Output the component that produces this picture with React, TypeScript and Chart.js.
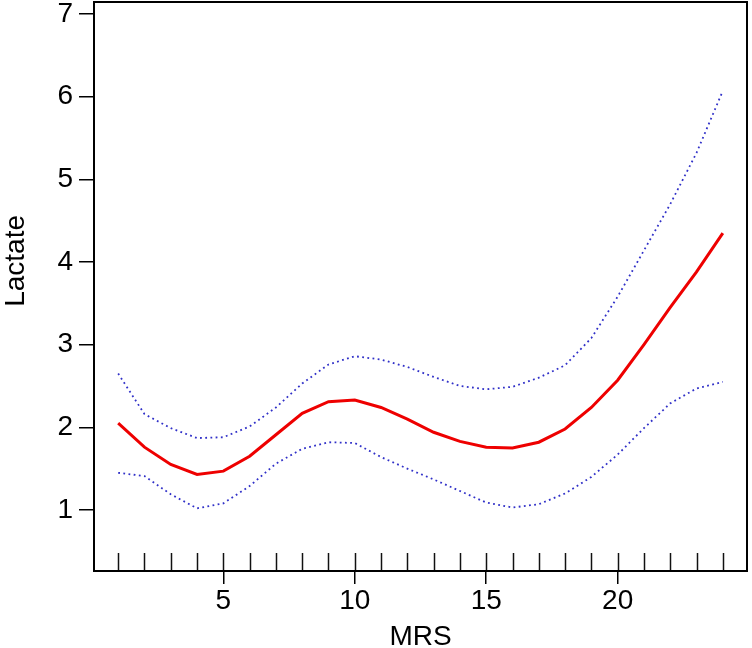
import { useEffect, useRef } from "react";
import { Chart, registerables } from "chart.js";

Chart.register(...registerables);

const mrs = [1, 2, 3, 4, 5, 6, 7, 8, 9, 10, 11, 12, 13, 14, 15, 16, 17, 18, 19, 20, 21, 22, 23, 24];
const lactateFit = [2.05, 1.76, 1.55, 1.43, 1.47, 1.65, 1.91, 2.17, 2.31, 2.33, 2.24, 2.1, 1.94, 1.83, 1.76, 1.75, 1.82, 1.98, 2.24, 2.57, 3.0, 3.45, 3.88, 4.35];
const upperCI = [2.65, 2.16, 1.99, 1.87, 1.88, 2.01, 2.24, 2.53, 2.76, 2.86, 2.82, 2.73, 2.61, 2.5, 2.46, 2.49, 2.6, 2.75, 3.08, 3.58, 4.14, 4.7, 5.32, 6.07];
const lowerCI = [1.45, 1.41, 1.19, 1.02, 1.08, 1.29, 1.56, 1.74, 1.82, 1.81, 1.64, 1.5, 1.37, 1.23, 1.09, 1.03, 1.07, 1.2, 1.4, 1.67, 1.99, 2.29, 2.47, 2.55];
const rugMRS = [1, 2, 3, 4, 5, 6, 7, 8, 9, 10, 11, 12, 13, 14, 15, 16, 17, 18, 19, 20, 21, 22, 23, 24];
const xTickValues = [5, 10, 15, 20];
const yTickValues = [1, 2, 3, 4, 5, 6, 7];
const yTitle = "Lactate";

const FONT = '"Liberation Sans", Arial, Helvetica, sans-serif';

const frameRugPlugin = {
  id: "frameRug",
  afterDatasetsDraw(chart: any) {
    const { ctx, chartArea: a, scales } = chart;
    const x = scales.x;
    ctx.save();
    ctx.strokeStyle = "#111";
    ctx.lineWidth = 1.5;
    for (const v of rugMRS) {
      const px = Math.round(x.getPixelForValue(v)) + 0.5;
      ctx.beginPath();
      ctx.moveTo(px, a.bottom);
      ctx.lineTo(px, a.bottom - 18);
      ctx.stroke();
    }
    ctx.strokeStyle = "#000";
    ctx.lineWidth = 2;
    ctx.strokeRect(a.left, a.top, a.right - a.left, a.bottom - a.top);
    ctx.restore();
  },
  afterDraw(chart: any) {
    const { ctx, chartArea: a } = chart;
    ctx.save();
    ctx.fillStyle = "#000";
    ctx.font = `28px ${FONT}`;
    ctx.textAlign = "center";
    ctx.textBaseline = "middle";
    ctx.translate(16.5, a.top + (a.bottom - a.top) * 0.455);
    ctx.rotate(-Math.PI / 2);
    ctx.fillText(yTitle, 0, 0);
    ctx.restore();
  },
};

export default function App() {
  const ref = useRef<HTMLCanvasElement | null>(null);

  useEffect(() => {
    document.body.style.margin = "0";
    if (!ref.current) return;
    const toPts = (ys: number[]) => mrs.map((m, i) => ({ x: m, y: ys[i] }));
    const chart = new Chart(ref.current, {
      type: "line",
      data: {
        datasets: [
          {
            data: toPts(upperCI),
            borderColor: "#3030c8",
            borderWidth: 1.8,
            borderDash: [1.8, 3.4],
            pointRadius: 0,
            tension: 0,
            fill: false,
          },
          {
            data: toPts(lowerCI),
            borderColor: "#3030c8",
            borderWidth: 1.8,
            borderDash: [1.8, 3.4],
            pointRadius: 0,
            tension: 0,
            fill: false,
          },
          {
            data: toPts(lactateFit),
            borderColor: "#ee0000",
            borderWidth: 3,
            pointRadius: 0,
            tension: 0,
            fill: false,
          },
        ],
      },
      options: {
        animation: false,
        responsive: true,
        maintainAspectRatio: false,
        layout: { padding: { top: 2, right: 5, left: 0, bottom: 0 } },
        plugins: { legend: { display: false }, tooltip: { enabled: false } },
        scales: {
          x: {
            type: "linear",
            position: "bottom",
            min: 0.08,
            max: 24.92,
            afterBuildTicks: (s: any) => {
              s.ticks = xTickValues.map((value) => ({ value }));
            },
            afterFit: (s: any) => {
              s.height = 77;
              s.paddingLeft = 0;
              s.paddingRight = 0;
            },
            grid: {
              display: true,
              drawOnChartArea: false,
              drawTicks: true,
              tickLength: 13,
              color: "#000",
              lineWidth: 1.5,
            },
            border: { display: false },
            ticks: {
              color: "#000",
              font: { family: FONT, size: 28 },
              padding: 0,
              maxRotation: 0,
              autoSkip: false,
            },
            title: {
              display: true,
              text: "MRS",
              color: "#000",
              font: { family: FONT, size: 28, lineHeight: 0.8 },
              padding: 0,
            },
          },
          y: {
            type: "linear",
            position: "left",
            min: 0.262,
            max: 7.145,
            afterBuildTicks: (s: any) => {
              s.ticks = yTickValues.map((value) => ({ value }));
            },
            afterFit: (s: any) => {
              s.width = 94;
              s.paddingTop = 0;
              s.paddingBottom = 0;
            },
            grid: {
              display: true,
              drawOnChartArea: false,
              drawTicks: true,
              tickLength: 15,
              color: "#000",
              lineWidth: 1.5,
            },
            border: { display: false },
            ticks: {
              color: "#000",
              font: { family: FONT, size: 28 },
              padding: 6,
              autoSkip: false,
            },
            title: { display: false },
          },
        },
      },
      plugins: [frameRugPlugin],
    });
    return () => chart.destroy();
  }, []);

  return (
    <div style={{ position: "relative", width: 752, height: 648 }}>
      <canvas ref={ref} />
    </div>
  );
}
